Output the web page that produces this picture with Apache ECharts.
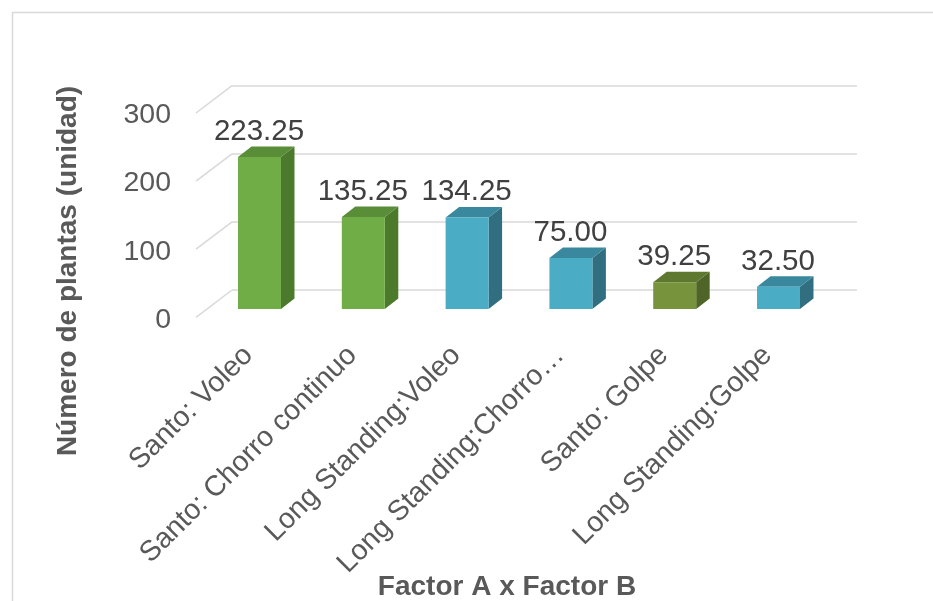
<!DOCTYPE html>
<html>
<head>
<meta charset="utf-8">
<script src="https://cdn.jsdelivr.net/npm/echarts@6/dist/echarts.min.js"></script>
<style>html,body{margin:0;padding:0;background:#fff;}#c{width:933px;height:601px;}</style>
</head>
<body>
<div id="c"></div>
<script>
var categories = ['Santo: Voleo', 'Santo: Chorro continuo', 'Long Standing:Voleo', 'Long Standing:Chorro…', 'Santo: Golpe', 'Long Standing:Golpe'];
var values = [223.25, 135.25, 134.25, 75.00, 39.25, 32.50];
var barGroups = ['green', 'green', 'blue', 'blue', 'olive', 'blue'];
var yTicks = [0, 100, 200, 300];
var yTitle = 'Número de plantas (unidad)';
var xTitle = 'Factor A x Factor B';

var palette = {
  green: {front: '#70AD47', side: '#4B7A2C', top: '#5A8D38'},
  blue:  {front: '#4BACC6', side: '#316F80', top: '#3A889D'},
  olive: {front: '#77933C', side: '#4F6427', top: '#5F7830'}
};
var FONT = '"Liberation Sans", Arial, sans-serif';
var DX = 13.5, DY = -10.5;

var chart = echarts.init(document.getElementById('c'), null, {renderer: 'canvas'});
chart.setOption({
  backgroundColor: '#ffffff',
  animation: false,
  grid: [
    {left: 232, right: 76, top: 85.7, height: 204.3},
    {left: 196, width: 600, top: 115.5, height: 204.3},
    {left: 207.6, right: 102.6, top: 104.7, height: 204.3},
    {left: 196.6, right: 113.6, top: 104.7, height: 204.3}
  ],
  xAxis: [
    {gridIndex: 0, type: 'value', min: 0, max: 1, show: false},
    {gridIndex: 1, type: 'value', min: 0, max: 1, show: false},
    {gridIndex: 2, type: 'category', data: categories, show: false},
    {gridIndex: 3, type: 'category', data: categories,
      axisLine: {show: false}, axisTick: {show: false}, splitLine: {show: false},
      axisLabel: {interval: 0, rotate: 45, margin: 42, fontSize: 28.5, color: '#595959', fontFamily: FONT}}
  ],
  yAxis: [
    {gridIndex: 0, type: 'value', min: 0, max: 300, interval: 100,
      axisLine: {show: false}, axisTick: {show: false}, axisLabel: {show: false},
      splitLine: {show: true, lineStyle: {color: '#D9D9D9', width: 1.5}}},
    {gridIndex: 1, type: 'value', min: 0, max: 300, interval: 100,
      axisLine: {show: false}, axisTick: {show: false}, splitLine: {show: false},
      axisLabel: {margin: 25, fontSize: 28.5, color: '#595959', fontFamily: FONT}},
    {gridIndex: 2, type: 'value', min: 0, max: 300, interval: 100, show: false},
    {gridIndex: 3, type: 'value', min: 0, max: 300, interval: 100, show: false}
  ],
  graphic: [
    {type: 'rect', shape: {x: 12.5, y: 12.5, width: 1000, height: 620}, style: {fill: 'none', stroke: '#D9D9D9', lineWidth: 1.5}, silent: true, z: -10},
    {type: 'text', x: 68, y: 271, rotation: Math.PI / 2,
      style: {text: yTitle, font: 'bold 28px ' + FONT, fill: '#595959', align: 'center', verticalAlign: 'middle'}},
    {type: 'text', x: 507, y: 587,
      style: {text: xTitle, font: 'bold 28px ' + FONT, fill: '#595959', align: 'center', verticalAlign: 'middle'}}
  ],
  series: [
    {
      type: 'custom', xAxisIndex: 0, yAxisIndex: 0, z: 1,
      data: yTicks.map(function (t) { return [0, t]; }),
      renderItem: function (params, api) {
        var p = api.coord([0, api.value(1)]);
        return {type: 'line', shape: {x1: p[0], y1: p[1], x2: p[0] - 36, y2: p[1] + 27.3},
          style: {stroke: '#D9D9D9', lineWidth: 1.5}};
      }
    },
    {
      type: 'custom', xAxisIndex: 2, yAxisIndex: 2, z: 5,
      data: values.map(function (v, i) { return [i, v]; }),
      renderItem: function (params, api) {
        var i = api.value(0), v = api.value(1);
        var top = api.coord([i, v]);
        var base = api.coord([i, 0]);
        var bw = api.size([1, 0])[0] * 0.414;
        var x0 = top[0] - bw / 2, x1 = top[0] + bw / 2;
        var c = palette[barGroups[params.dataIndex]];
        return {type: 'group', children: [
          {type: 'polygon', shape: {points: [[x1, top[1]], [x1 + DX, top[1] + DY], [x1 + DX, base[1] + DY], [x1, base[1]]]}, style: {fill: c.side}},
          {type: 'polygon', shape: {points: [[x0, top[1]], [x0 + DX, top[1] + DY], [x1 + DX, top[1] + DY], [x1, top[1]]]}, style: {fill: c.top}},
          {type: 'rect', shape: {x: x0, y: top[1], width: bw, height: base[1] - top[1]}, style: {fill: c.front}},
          {type: 'text', x: top[0] - 0.5, y: top[1] + DY - 15,
            style: {text: v.toFixed(2), font: '29.5px ' + FONT, fill: '#404040', align: 'center', verticalAlign: 'middle', textAlign: 'center', textVerticalAlign: 'middle'}}
        ]};
      }
    }
  ]
});
</script>
</body>
</html>
